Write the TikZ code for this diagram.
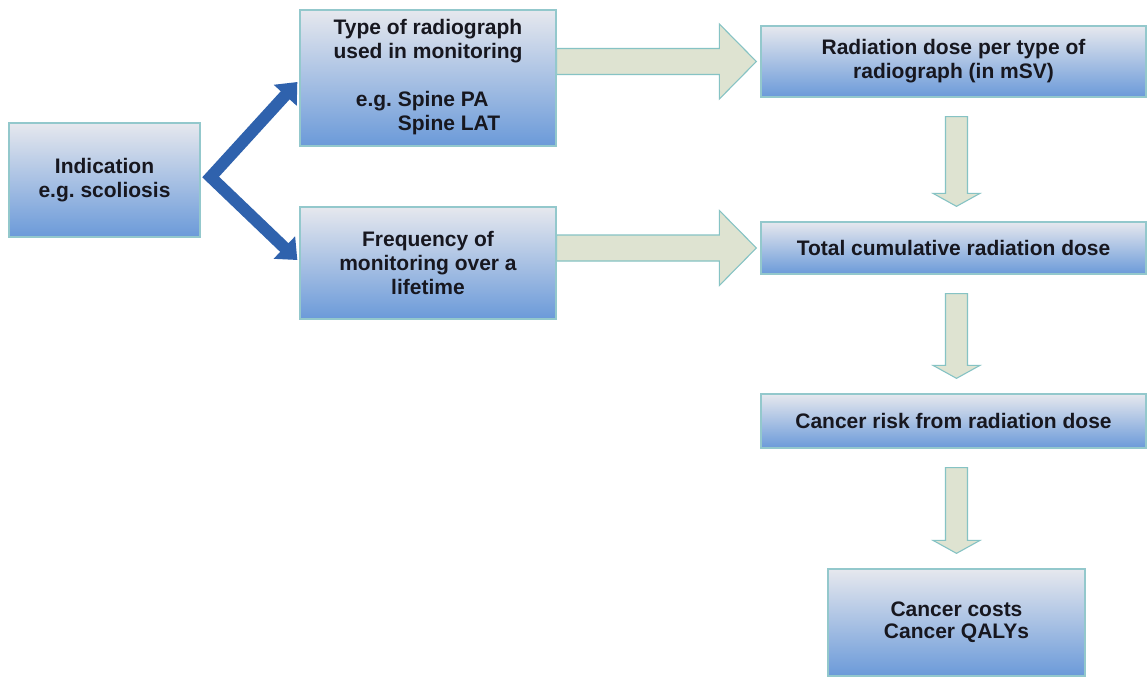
\documentclass[tikz,border=0pt]{standalone}
\usepackage{fontspec}
\setmainfont{Liberation Sans}
\usetikzlibrary{calc,arrows.meta,backgrounds}
\definecolor{boxtop}{HTML}{E6E8EE}
\definecolor{boxbot}{HTML}{6B9AD9}
\definecolor{boxborder}{HTML}{93C8CC}
\definecolor{arrfill}{HTML}{DEE3D1}
\definecolor{arrborder}{HTML}{86C3C4}
\definecolor{bluearr}{HTML}{2F62AD}
\definecolor{textcol}{HTML}{17171F}
\newcommand\hbarrow[2]{%
  \path[blockarrow] let \p1=(#1.east), \p2=(#2.west) in
    (\x1,\y2+13pt) -- (\x2-41pt,\y2+13pt) -- (\x2-41pt,\y2+37.5pt) -- (\x2-4pt,\y2)
    -- (\x2-41pt,\y2-37.5pt) -- (\x2-41pt,\y2-13pt) -- (\x1,\y2-13pt) -- cycle;}
\newcommand\vbarrow[3]{%
  \path[blockarrow] let \p1=(#1.south), \p2=(#2.north), \p3=(#3.center) in
    (\x3-11pt,\y1-19pt) -- (\x3-11pt,\y2+28pt) -- (\x3-23.5pt,\y2+28pt) -- (\x3,\y2+15pt)
    -- (\x3+23.5pt,\y2+28pt) -- (\x3+11pt,\y2+28pt) -- (\x3+11pt,\y1-19pt) -- cycle;}
\begin{document}
\frenchspacing
\begin{tikzpicture}[x=1pt,y=-1pt,
  box/.style={draw=boxborder, line width=1.3pt, top color=boxtop, bottom color=boxbot,
    inner sep=0pt, align=center, text=textcol,
    font=\bfseries\fontsize{21}{24}\selectfont},
  blockarrow/.style={draw=arrborder, line width=1.1pt, fill=arrfill, line join=miter},
  bluearrow/.style={draw=bluearr, line width=12pt, line join=miter,
    {Triangle[length=18pt,width=30pt]}-{Triangle[length=18pt,width=30pt]}}]
\useasboundingbox (0,0) rectangle (1148,677);
\node[box, minimum width=191pt, minimum height=114pt] (ind) at (104.5,180) {Indication\\e.g.\ scoliosis};
\node[box, minimum width=256pt, minimum height=136pt] (type) at (428,78)
  {Type of radiograph\\used in monitoring\\ \mbox{}\\
   \begin{tabular}[t]{@{}l@{}}e.g.\ Spine PA\\ \phantom{e.g.\ }Spine LAT\end{tabular}};
\node[box, minimum width=256pt, minimum height=112pt] (freq) at (428,263)
  {Frequency of\\monitoring over a\\lifetime};
\node[box, minimum width=385pt, minimum height=71pt] (rad) at (953.5,61.5)
  {Radiation dose per type of\\radiograph (in mSV)};
\node[box, minimum width=385pt, minimum height=52pt] (total) at (953.5,248)
  {Total cumulative radiation dose};
\node[box, minimum width=385pt, minimum height=54pt] (risk) at (953.5,421)
  {Cancer risk from radiation dose};
\node[box, minimum width=257pt, minimum height=107pt, font=\bfseries\fontsize{21}{22}\selectfont] (costs) at (956.5,622.5)
  {Cancer costs\\Cancer QALYs};
\begin{scope}[on background layer]
  \fill[white] (0,0) rectangle (1148,677);
  \hbarrow{type}{rad}
  \hbarrow{freq}{total}
  \vbarrow{rad}{total}{costs}
  \vbarrow{total}{risk}{costs}
  \vbarrow{risk}{costs}{costs}
\end{scope}
\draw[bluearrow] ($(type.west)+(-2,4)$) -- ($(ind.east)+(10,-3)$) -- ($(freq.west)+(-2,-3)$);
\end{tikzpicture}
\end{document}
